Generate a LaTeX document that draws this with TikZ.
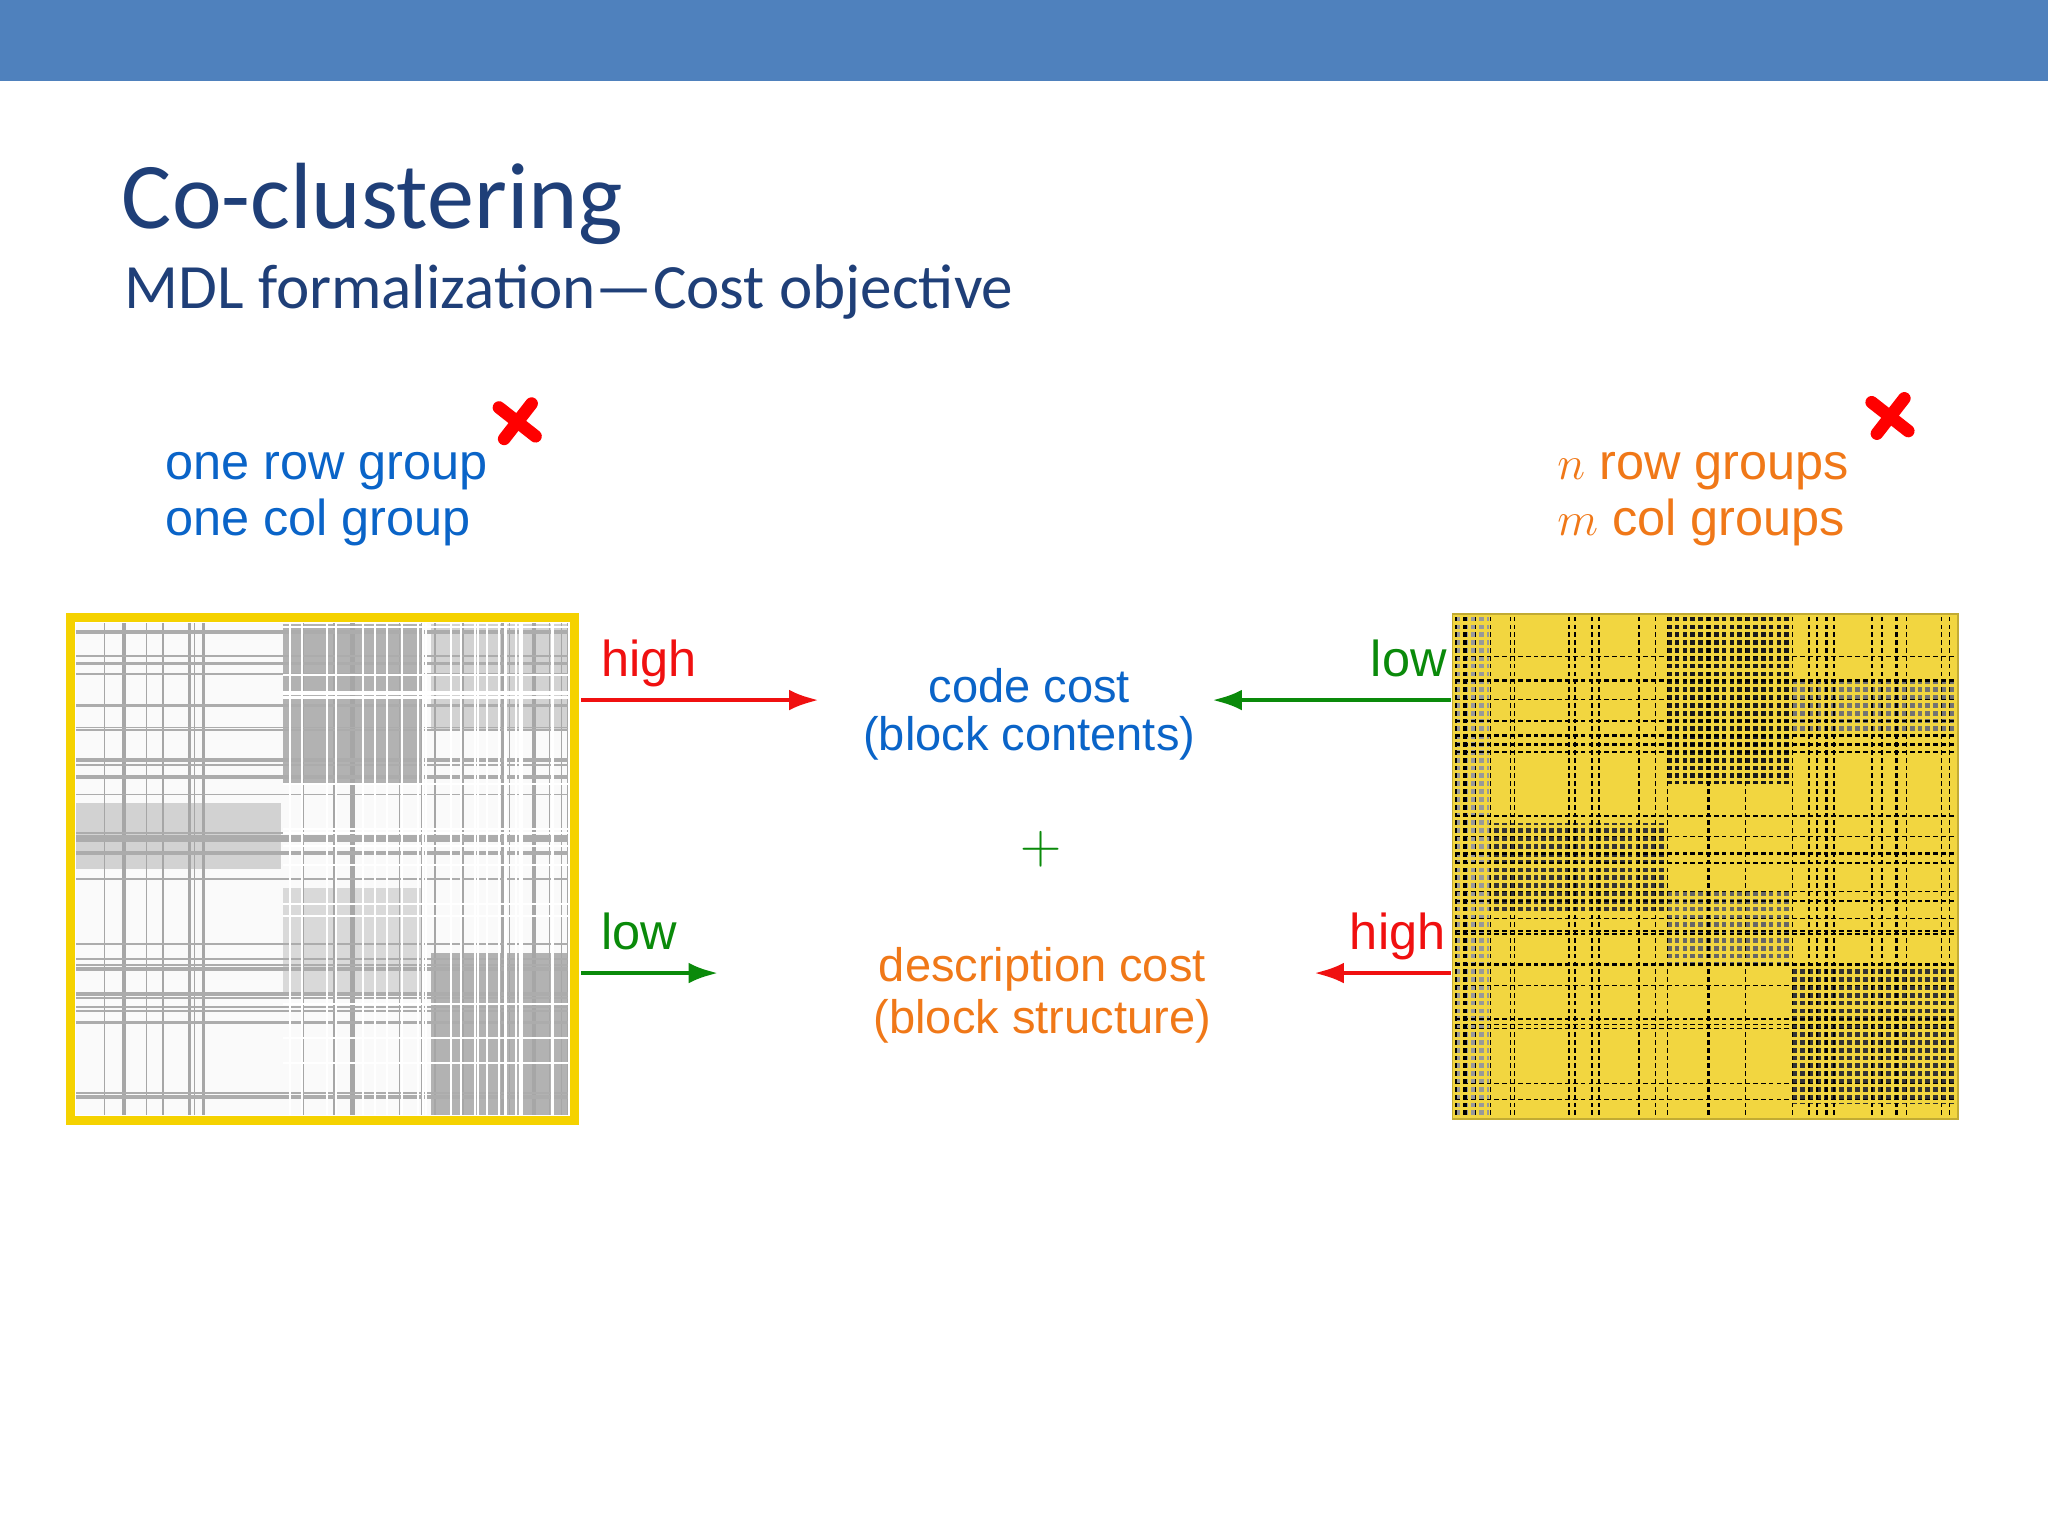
\documentclass[tikz,border=0pt]{standalone}
\usepackage{fontspec}
\setmainfont{Liberation Sans}
\newfontfamily\titlefont{Carlito}
\usetikzlibrary{arrows.meta}
\begin{document}
\begin{tikzpicture}[x=0.02cm,y=-0.02cm,
  lbl/.style={font=\fontsize{22}{26}\selectfont, inner sep=0pt},
  clbl/.style={font=\fontsize{20.5}{24}\selectfont, inner sep=0pt},
  arr/.style={line width=2, -{Latex[length=13,width=9]}},
  xmark/.style={red, line width=5.5, line cap=round}]
\definecolor{bar}{HTML}{4F81BD}
\definecolor{tblue}{HTML}{1F3F78}
\definecolor{lblue}{HTML}{0A64C8}
\definecolor{org}{HTML}{F07818}
\definecolor{grn}{HTML}{0A8A0A}
\definecolor{myred}{HTML}{F01010}
\definecolor{ylw}{HTML}{F5D200}
\definecolor{ygrid}{HTML}{F2D640}
\useasboundingbox (0,0) rectangle (1568,1176);
\fill[white] (0,0) rectangle (1568,1176);
\fill[bar] (0,0) rectangle (1568,62);
% titles
\node[anchor=base west, inner sep=0pt, text=tblue, font=\titlefont\fontsize{41}{48}\selectfont] (title) at (93,175) {Co-clustering};
\node[anchor=base west, inner sep=0pt, text=tblue, font=\titlefont\fontsize{27.5}{32}\selectfont] (sub) at (95,236) {MDL formalization\textemdash Cost objective};
% labels
\node[lbl, anchor=base west, text=lblue] (l1) at (126,367) {one row group};
\node[lbl, anchor=base west, text=lblue] (l2) at (126,410) {one col group};
\node[lbl, anchor=base east, text=org] (r1) at (1416,367) {$n$ row groups};
\node[lbl, anchor=base east, text=org] (r2) at (1413,410) {$m$ col groups};
% x marks
\draw[xmark] (382,312) -- (410,334); \draw[xmark] (407,309) -- (386,336);
\draw[xmark] (1433,308) -- (1461,330); \draw[xmark] (1458,305) -- (1437,332);
% left matrix
\pgfmathsetseed{7}
\begin{scope}
\clip (58,477) rectangle (436,854);
\fill[gray!4] (58,477) rectangle (436,854);
\fill[gray!60] (217,478) rectangle (325,600);
\fill[gray!35] (330,478) rectangle (436,560);
\fill[gray!60] (330,730) rectangle (436,854);
\fill[gray!35] (58,615) rectangle (215,665);
\fill[gray!30] (217,680) rectangle (325,760);
\foreach \i in {1,...,22}{
  \pgfmathrandominteger{\xx}{58}{436}
  \pgfmathrandominteger{\ww}{1}{3}
  \draw[gray!70, line width=\ww*0.5] (\xx,477) -- (\xx,854);}
\foreach \i in {1,...,30}{
  \pgfmathrandominteger{\yy}{477}{854}
  \pgfmathrandominteger{\ww}{1}{3}
  \draw[gray!65, line width=\ww*0.5] (58,\yy) -- (436,\yy);}
\foreach \i in {1,...,25}{
  \pgfmathrandominteger{\xx}{217}{436}
  \draw[white, line width=0.9] (\xx,477) -- (\xx,854);}
\foreach \i in {1,...,15}{
  \pgfmathrandominteger{\yy}{477}{854}
  \draw[white, line width=0.9] (217,\yy) -- (436,\yy);}
\end{scope}
\draw[ylw, line width=4] (54,473) rectangle (440,858);
% right matrix
\begin{scope}
\clip (1112,470) rectangle (1499,857);
\fill[ygrid] (1112,470) rectangle (1499,857);
\fill[black!90] (1275,470) rectangle (1370,600);
\fill[black!80] (1113,630) rectangle (1275,700);
\fill[black!80] (1370,740) rectangle (1499,845);
\fill[black!60] (1275,680) rectangle (1370,740);
\fill[black!55] (1370,520) rectangle (1499,560);
\fill[black!40] (1113,470) rectangle (1140,857);
\foreach \i in {1,...,40}{
  \pgfmathrandominteger{\xx}{1112}{1499}
  \draw[black, line width=1] (\xx,470) -- (\xx,857);}
\foreach \i in {1,...,40}{
  \pgfmathrandominteger{\yy}{470}{857}
  \draw[black, line width=1] (1112,\yy) -- (1499,\yy);}
\foreach \k in {0,...,65}{
  \draw[ygrid, line width=1.35] (1113+\k*6,470) -- (1113+\k*6,857);
  \draw[ygrid, line width=1.35] (1112,471+\k*6) -- (1499,471+\k*6);}
\end{scope}
\draw[ygrid!80!black, line width=0.8] (1112,470) rectangle (1499,857);
% center text
\node[clbl, text=lblue] (cc) at (788,525) {code cost};
\node[clbl, text=lblue] (bc) at (788,565) {(block contents)};
\node[text=grn, font=\fontsize{34}{34}\selectfont, inner sep=0pt] (plus) at (797,650) {$+$};
\node[clbl, text=org] (dc) at (798,742) {description cost};
\node[clbl, text=org] (bs) at (798,782) {(block structure)};
% arrows
\coordinate (a1s) at (445,536); \coordinate (a1e) at (627,536);
\coordinate (a2s) at (445,745); \coordinate (a2e) at (550,745);
\coordinate (a3s) at (1111,536); \coordinate (a3e) at (928,536);
\coordinate (a4s) at (1111,745); \coordinate (a4e) at (1006,745);
\draw[arr, myred] (a1s) -- (a1e);
\draw[arr, grn] (a2s) -- (a2e);
\draw[arr, grn] (a3s) -- (a3e);
\draw[arr, myred] (a4s) -- (a4e);
\node[lbl, anchor=base west, text=myred] (h1) at (460,518) {high};
\node[lbl, anchor=base west, text=grn] (lo1) at (460,727) {low};
\node[lbl, anchor=base east, text=grn] (lo2) at (1108,518) {low};
\node[lbl, anchor=base east, text=myred] (h2) at (1107,727) {high};
\end{tikzpicture}
\end{document}
